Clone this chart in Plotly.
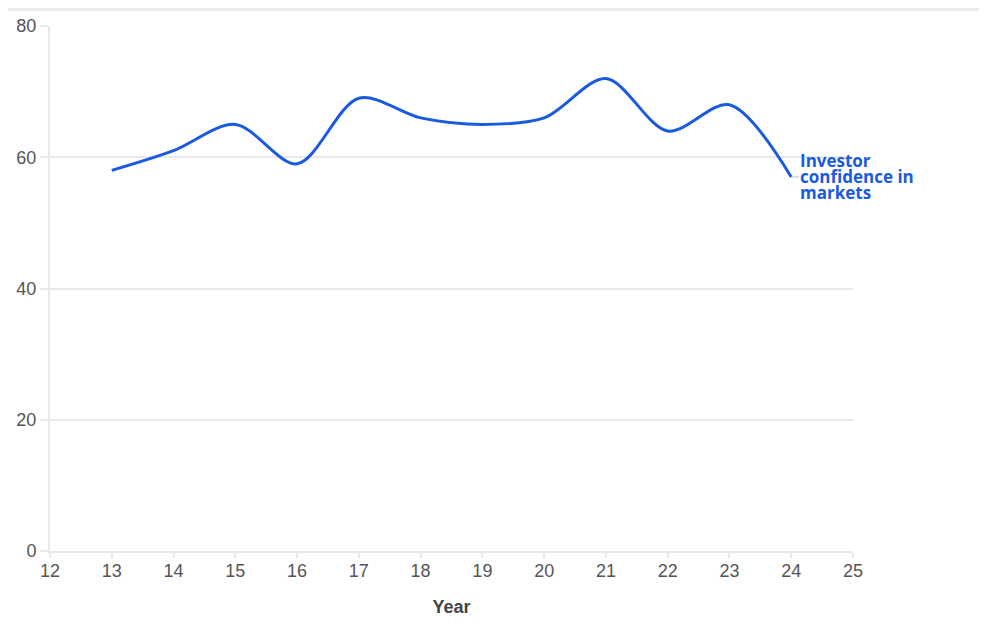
import plotly.graph_objects as go

years = [13, 14, 15, 16, 17, 18, 19, 20, 21, 22, 23, 24]
confidence = [58, 61, 65, 59, 69, 66, 65, 66, 72, 64, 68, 57]
series_name = "Investor confidence in markets"
x_ticks = list(range(12, 26))
y_ticks = [0, 20, 40, 60, 80]

blue = "#1a5ae0"
grid = "#e9e9e9"

fig = go.Figure()
fig.add_trace(go.Scatter(
    x=years, y=confidence, mode="lines",
    line=dict(color=blue, width=3, shape="spline", smoothing=0.9),
    name=series_name, hoverinfo="x+y",
))

fig.add_annotation(
    x=years[-1], y=confidence[-1], xref="x", yref="y",
    text="<span style='font-size:17px'>Investor<br>confidence in<br>markets</span>",
    showarrow=True, arrowhead=0, arrowwidth=1, arrowcolor="#bbbbbb",
    ax=8, ay=0, xanchor="left", yanchor="middle", align="left",
    font=dict(family="Open Sans", size=12.3, color=blue, weight="bold"),
    borderpad=0,
)

W, H = 979, 622
L, R, T, B = 42, 134, 18, 79
pw, ph = W - L - R, H - T - B

fig.update_layout(
    width=W, height=H,
    margin=dict(l=L, r=R, t=T, b=B, autoexpand=False),
    paper_bgcolor="white", plot_bgcolor="white",
    showlegend=False,
    font=dict(family="Liberation Sans, Arial", size=18, color="#555555"),
    shapes=[dict(type="rect", xref="paper", yref="paper",
                 x0=-L / pw, x1=(W - L) / pw, y0=(ph + T - 3) / ph, y1=(ph + T) / ph,
                 fillcolor="#ececec", line=dict(width=0), layer="below")],
)
fig.update_xaxes(
    range=[12, 25], tickvals=x_ticks, showgrid=False, automargin=False,
    ticks="outside", ticklen=5, tickcolor=grid, tickwidth=2,
    ticklabelstandoff=-3,
    showline=True, linecolor=grid, linewidth=2,
    zeroline=False,
    title=dict(text="<b>Year</b>", font=dict(size=18, color="#444444"), standoff=21),
)
fig.update_yaxes(
    range=[0, 80], tickvals=y_ticks, showgrid=True, gridcolor=grid, gridwidth=1.5,
    automargin=False,
    ticks="outside", ticklen=8, tickcolor=grid, tickwidth=2,
    showline=True, linecolor=grid, linewidth=2, zeroline=False,
)

fig.write_html("out.html")
